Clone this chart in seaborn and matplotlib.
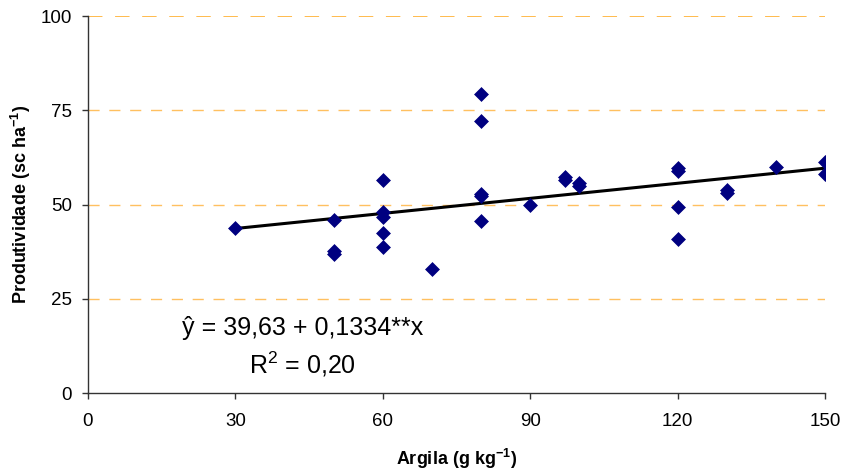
import matplotlib
matplotlib.use("Agg")
import matplotlib.pyplot as plt
import numpy as np
import pandas as pd
import seaborn as sns

# Clay content (g/kg) and yield (sc/ha) per sampled plot
argila = [30, 50, 50, 50, 60, 60, 60, 60, 60, 70,
          80, 80, 80, 80, 80, 90, 97, 97, 100, 100,
          120, 120, 120, 120, 130, 130, 140, 150, 150]
produtividade = [43.8, 45.9, 37.0, 37.6, 56.5, 48.1, 46.8, 42.5, 38.8, 33.0,
                 79.3, 72.1, 52.2, 52.8, 45.7, 49.9, 56.6, 57.3, 54.9, 55.6,
                 59.0, 59.6, 49.4, 40.8, 53.8, 53.0, 59.9, 61.3, 58.0]

# Linear fit coefficients
intercepto = 39.63
inclinacao = 0.1334
r2 = 0.20
x_fit = [30, 150]

x_ticks = [0, 30, 60, 90, 120, 150]
y_ticks = [0, 25, 50, 75, 100]

df = pd.DataFrame({"argila": argila, "produtividade": produtividade})
fit = pd.DataFrame({"x": x_fit})
fit["y"] = intercepto + inclinacao * fit["x"]

sns.set_style("white")
plt.rcParams["font.family"] = ["Liberation Sans", "DejaVu Sans"]
plt.rcParams["mathtext.fontset"] = "custom"
plt.rcParams["mathtext.rm"] = "Liberation Sans"
plt.rcParams["mathtext.bf"] = "Liberation Sans:bold"
plt.rcParams["text.color"] = "black"
plt.rcParams["axes.labelcolor"] = "black"
plt.rcParams["xtick.color"] = "black"
plt.rcParams["ytick.color"] = "black"

fig = plt.figure(figsize=(8.42, 4.71), dpi=100)
ax = fig.add_axes([0.1045, 0.1656, 0.8755, 0.8004])

# Dashed horizontal gridlines
for yv in y_ticks[1:]:
    lw = 1.3 if yv == 100 else 1.0
    col = "#FFB53F" if yv == 100 else "#FFC060"
    ax.axhline(yv, color=col, lw=lw, dashes=(8, 7), zorder=0)

sns.lineplot(data=fit, x="x", y="y", ax=ax, color="black", lw=2.2, zorder=2)
sns.scatterplot(data=df, x="argila", y="produtividade", ax=ax, marker="D",
                s=50, color="#000080", edgecolor="#000080", linewidth=0.5, zorder=3)

ax.set_xlim(0, 150)
ax.set_ylim(0, 100)
ax.set_xticks(x_ticks)
ax.set_yticks(y_ticks)
ax.tick_params(axis="both", direction="out", length=4.5, width=1, color="#333333",
               labelcolor="black", labelsize=13.5, bottom=True, left=True)
ax.tick_params(axis="x", pad=10)
ax.tick_params(axis="y", pad=7)

for side in ["top", "right"]:
    ax.spines[side].set_visible(False)
for side in ["left", "bottom"]:
    ax.spines[side].set_color("#333333")
    ax.spines[side].set_linewidth(1.0)

ax.set_xlabel("Argila (g kg$^{\\mathbf{-1}}$)", fontsize=13, fontweight="bold", labelpad=12)
ax.set_ylabel("Produtividade (sc ha$^{\\mathbf{-1}}$)", fontsize=13, fontweight="bold", labelpad=5.5)

ax.text(43.7, 17.2, "ŷ = 39,63 + 0,1334**x", fontsize=18, ha="center", va="center")
ax.text(43.7, 7.6, "R$^2$ = 0,20", fontsize=18, ha="center", va="center")

fig.savefig("out.png", dpi=100)
